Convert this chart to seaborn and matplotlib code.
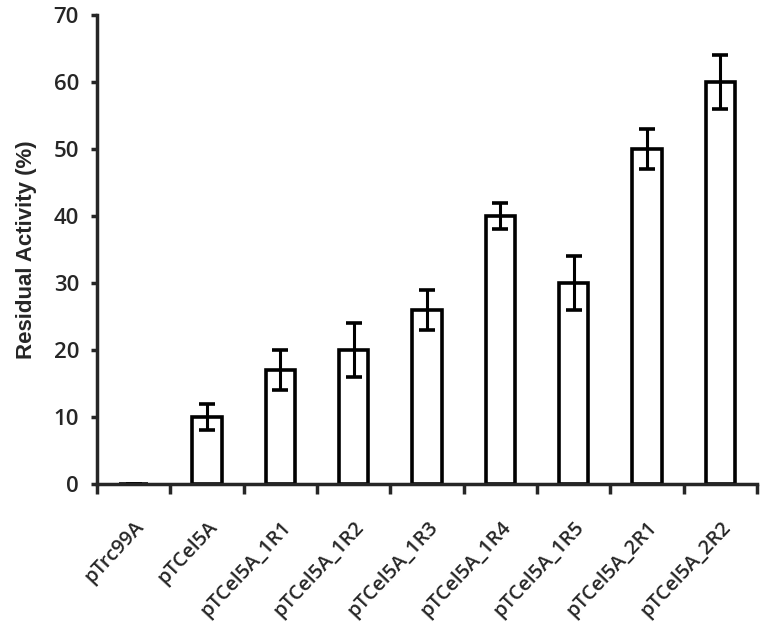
import matplotlib
matplotlib.use("Agg")
import matplotlib.pyplot as plt
import numpy as np
import pandas as pd
import seaborn as sns

CONSTRUCTS = ["pTrc99A", "pTCel5A", "pTCel5A_1R1", "pTCel5A_1R2", "pTCel5A_1R3",
              "pTCel5A_1R4", "pTCel5A_1R5", "pTCel5A_2R1", "pTCel5A_2R2"]
ACTIVITY = [0, 10, 17, 20, 26, 40, 30, 50, 60]
ERROR = [0, 2, 3, 4, 3, 2, 4, 3, 4]
Y_TICKS = [0, 10, 20, 30, 40, 50, 60, 70]


def main():
    df = pd.DataFrame({"construct": CONSTRUCTS, "activity": ACTIVITY, "err": ERROR})

    sns.set_style("ticks")
    plt.rcParams["font.family"] = ["Open Sans", "DejaVu Sans"]

    fig = plt.figure(figsize=(7.71, 6.26), dpi=100)
    ax = fig.add_axes([0.126, 0.227, 0.856, 0.749])

    sns.barplot(data=df, x="construct", y="activity", order=CONSTRUCTS,
                color="white", edgecolor="black", linewidth=2.6,
                width=0.4, errorbar=None, ax=ax)
    ax.errorbar(np.arange(len(CONSTRUCTS)), df["activity"], yerr=df["err"],
                fmt="none", ecolor="black", elinewidth=2.2, capsize=6, capthick=2.6)

    ax.set_xlim(-0.5, len(CONSTRUCTS) - 0.5)
    ax.set_ylim(0, 70)
    ax.set_yticks(Y_TICKS)
    ax.set_yticklabels([str(t) for t in Y_TICKS], fontsize=16, fontweight="semibold")

    # labels at bar centres, ticks at category boundaries
    ax.set_xticks(np.arange(len(CONSTRUCTS)))
    ax.set_xticklabels(CONSTRUCTS, rotation=47, ha="right", rotation_mode="anchor",
                       fontsize=14.5, fontweight="semibold")
    ax.set_xticks(np.arange(len(CONSTRUCTS) + 1) - 0.5, minor=True)
    ax.tick_params(axis="x", which="major", length=0, pad=24)
    ax.tick_params(axis="x", which="minor", length=7, width=2.5, direction="out")
    ax.tick_params(axis="y", length=4, width=2.5, pad=9)

    ax.set_xlabel("")
    ax.set_ylabel("Residual Activity (%)", fontsize=16, fontweight="bold",
                  family=["Liberation Sans", "DejaVu Sans"], labelpad=12)

    sns.despine(ax=ax)
    for side in ("left", "bottom"):
        ax.spines[side].set_linewidth(2.5)

    plt.savefig("out.png", dpi=100)
    plt.close()


if __name__ == "__main__":
    main()
